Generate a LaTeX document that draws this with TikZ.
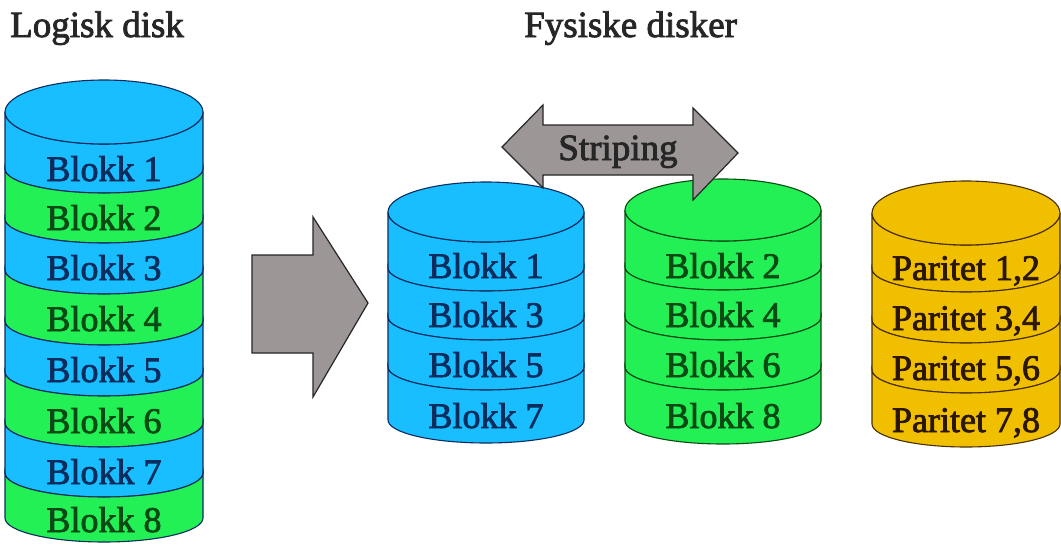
\documentclass[tikz,border=0pt]{standalone}
\usepackage{fontspec}
\setmainfont{Liberation Serif}[FakeBold=2.2]
\begin{document}
\begin{tikzpicture}[x=1pt,y=-1pt,
  lbl/.style={inner sep=0pt,anchor=base,font=\fontsize{36}{40}\selectfont},
  title/.style={inner sep=0pt,anchor=base west,font=\fontsize{37}{42}\selectfont,text=black!85},
  bigarrow/.style={fill=arrowgray,draw=black!85,line width=1.2pt,line join=miter}]
\definecolor{diskblue}{HTML}{18BEFF}
\definecolor{diskgreen}{HTML}{22F055}
\definecolor{diskgold}{HTML}{F0C000}
\definecolor{blueline}{HTML}{0B2D5E}
\definecolor{greenline}{HTML}{0B4A14}
\definecolor{goldline}{HTML}{4A2E00}
\definecolor{goldtext}{HTML}{2B1700}
\definecolor{arrowgray}{HTML}{9C9696}

% one band of a cylinder: cx, rx, upper arc centre, upper ry, lower arc centre, lower ry, fill
\newcommand\cylband[7]{%
  \filldraw[fill=#7] ({#1-#2},#3) -- ({#1-#2},#5)
    arc[start angle=180,end angle=0,x radius=#2,y radius=#6]
    -- ({#1+#2},#3)
    arc[start angle=0,end angle=180,x radius=#2,y radius=#4] -- cycle;}
% the lid of a cylinder: cx, rx, centre, ry, fill
\newcommand\cyltop[5]{%
  \filldraw[fill=#5] (#1,#3) ellipse[x radius=#2,y radius=#4];}

\useasboundingbox (0,0) rectangle (1061,552);
\fill[white] (0,0) rectangle (1061,552);

% titles
\node[title] (tlog) at (10,37) {Logisk disk};
\node[title] (tphys) at (524,37) {Fysiske disker};

% logical disk
\begin{scope}[draw=blueline,line width=1.1pt]
  \cylband{104}{99}{112}{32}{169}{24}{diskblue}
  \cylband{104}{99}{169}{24}{219}{24}{diskgreen}
  \cylband{104}{99}{219}{24}{270}{24}{diskblue}
  \cylband{104}{99}{270}{24}{321}{24}{diskgreen}
  \cylband{104}{99}{321}{24}{372}{24}{diskblue}
  \cylband{104}{99}{372}{24}{423}{24}{diskgreen}
  \cylband{104}{99}{423}{24}{473}{24}{diskblue}
  \cylband{104}{99}{473}{24}{518}{24}{diskgreen}
  \cyltop{104}{99}{112}{32}{diskblue}
\end{scope}
\node[lbl,text=blueline]  (l1) at (104,181) {Blokk 1};
\node[lbl,text=greenline] (l2) at (104,230) {Blokk 2};
\node[lbl,text=blueline]  (l3) at (104,280) {Blokk 3};
\node[lbl,text=greenline] (l4) at (104,331) {Blokk 4};
\node[lbl,text=blueline]  (l5) at (104,382) {Blokk 5};
\node[lbl,text=greenline] (l6) at (104,433) {Blokk 6};
\node[lbl,text=blueline]  (l7) at (104,484) {Blokk 7};
\node[lbl,text=greenline] (l8) at (104,532) {Blokk 8};

% physical disk 1
\begin{scope}[draw=blueline,line width=1.1pt]
  \cylband{486}{98}{212}{30}{268}{23}{diskblue}
  \cylband{486}{98}{268}{23}{317}{23}{diskblue}
  \cylband{486}{98}{317}{23}{367}{23}{diskblue}
  \cylband{486}{98}{367}{23}{420}{23}{diskblue}
  \cyltop{486}{98}{212}{30}{diskblue}
\end{scope}
\node[lbl,text=blueline] (b1) at (486,278) {Blokk 1};
\node[lbl,text=blueline] (b3) at (486,327) {Blokk 3};
\node[lbl,text=blueline] (b5) at (486,377) {Blokk 5};
\node[lbl,text=blueline] (b7) at (486,428) {Blokk 7};

% physical disk 2
\begin{scope}[draw=greenline,line width=1.1pt]
  \cylband{723}{98}{210}{31}{267}{23}{diskgreen}
  \cylband{723}{98}{267}{23}{317}{23}{diskgreen}
  \cylband{723}{98}{317}{23}{367}{23}{diskgreen}
  \cylband{723}{98}{367}{23}{421}{23}{diskgreen}
  \cyltop{723}{98}{210}{31}{diskgreen}
\end{scope}
\node[lbl,text=greenline] (g2) at (723,278) {Blokk 2};
\node[lbl,text=greenline] (g4) at (723,327) {Blokk 4};
\node[lbl,text=greenline] (g6) at (723,377) {Blokk 6};
\node[lbl,text=greenline] (g8) at (723,428) {Blokk 8};

% parity disk
\begin{scope}[draw=goldline,line width=1.1pt]
  \cylband{966}{94}{213}{32}{269}{23}{diskgold}
  \cylband{966}{94}{269}{23}{320}{23}{diskgold}
  \cylband{966}{94}{320}{23}{370}{23}{diskgold}
  \cylband{966}{94}{370}{23}{424}{23}{diskgold}
  \cyltop{966}{94}{213}{32}{diskgold}
\end{scope}
\node[lbl,text=goldtext] (p12) at (966,280) {Paritet 1,2};
\node[lbl,text=goldtext] (p34) at (966,330) {Paritet 3,4};
\node[lbl,text=goldtext] (p56) at (966,380) {Paritet 5,6};
\node[lbl,text=goldtext] (p78) at (966,432) {Paritet 7,8};

% block arrow from the logical disk to the physical disks
\filldraw[bigarrow] (252,255) -- (313,255) -- (313,217) -- (368,303)
  -- (313,397) -- (313,353) -- (252,353) -- cycle;

% striping double arrow
\filldraw[bigarrow] (502,147) -- (543,105) -- (543,125) -- (693,125)
  -- (693,108) -- (738,153) -- (693,200) -- (693,175) -- (543,175)
  -- (543,188) -- cycle;
\node[inner sep=0pt,anchor=base,font=\fontsize{37}{42}\selectfont,text=black!85]
  (strip) at (618,160) {Striping};
\end{tikzpicture}
\end{document}
